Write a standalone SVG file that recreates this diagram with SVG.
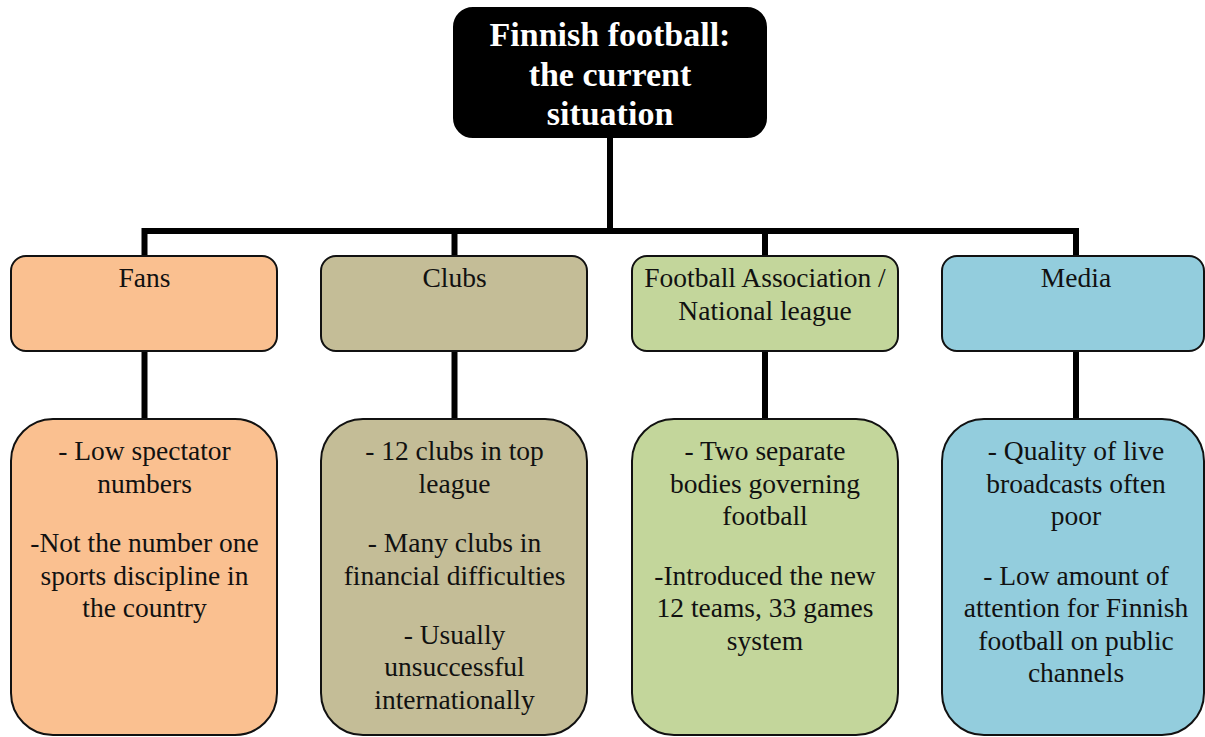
<svg xmlns="http://www.w3.org/2000/svg" width="1205" height="737" viewBox="0 0 1205 737">
<style>
.box{stroke:#111;stroke-width:2}
.fans{fill:#FAC090}
.clubs{fill:#C4BD97}
.fa{fill:#C3D69B}
.media{fill:#93CDDD}
.t{font-family:"Liberation Serif","Times New Roman",serif;font-size:27.5px;fill:#111;text-anchor:middle}
.title{font-family:"Liberation Serif","Times New Roman",serif;font-size:34px;font-weight:bold;fill:#fff;text-anchor:middle}
.conn{fill:none;stroke:#000;stroke-width:6;stroke-linejoin:miter;stroke-linecap:butt}
</style>
<rect width="1205" height="737" fill="#fff"/>
<g id="connectors">
<path class="conn" d="M610,138 V231"/>
<path class="conn" d="M144.5,256 V231 H1076 V256"/>
<path class="conn" d="M454.5,231 V256"/>
<path class="conn" d="M765,231 V256"/>
<path class="conn" d="M144.5,352 V419"/>
<path class="conn" d="M454.5,352 V419"/>
<path class="conn" d="M765,352 V419"/>
<path class="conn" d="M1076,352 V419"/>
</g>
<g id="root">
<rect x="454" y="8" width="312" height="129" rx="19" fill="#000" stroke="#000" stroke-width="2"/>
<text class="title" x="610" y="46">Finnish football:</text>
<text class="title" x="610" y="86">the current</text>
<text class="title" x="610" y="125">situation</text>
</g>
<g id="fans">
<rect class="box fans" x="11" y="256" width="266" height="95" rx="15"/>
<text class="t" x="144.5" y="287">Fans</text>
</g>
<g id="clubs">
<rect class="box clubs" x="321" y="256" width="266" height="95" rx="15"/>
<text class="t" x="454.5" y="287">Clubs</text>
</g>
<g id="fa">
<rect class="box fa" x="632" y="256" width="266" height="95" rx="15"/>
<text class="t" x="765" y="287">Football Association /</text>
<text class="t" x="765" y="320">National league</text>
</g>
<g id="media">
<rect class="box media" x="942" y="256" width="262" height="95" rx="15"/>
<text class="t" x="1076" y="287">Media</text>
</g>
<g id="fans-details">
<rect class="box fans" x="11" y="419" width="266" height="316" rx="42"/>
<text class="t" x="144.5" y="460">- Low spectator</text>
<text class="t" x="144.5" y="493">numbers</text>
<text class="t" x="144.5" y="552">-Not the number one</text>
<text class="t" x="144.5" y="585">sports discipline in</text>
<text class="t" x="144.5" y="617">the country</text>
</g>
<g id="clubs-details">
<rect class="box clubs" x="321" y="419" width="266" height="316" rx="42"/>
<text class="t" x="454.5" y="460">- 12 clubs in top</text>
<text class="t" x="454.5" y="493">league</text>
<text class="t" x="454.5" y="552">- Many clubs in</text>
<text class="t" x="454.5" y="585">financial difficulties</text>
<text class="t" x="454.5" y="644">- Usually</text>
<text class="t" x="454.5" y="676">unsuccessful</text>
<text class="t" x="454.5" y="709">internationally</text>
</g>
<g id="fa-details">
<rect class="box fa" x="632" y="419" width="266" height="316" rx="42"/>
<text class="t" x="765" y="460">- Two separate</text>
<text class="t" x="765" y="493">bodies governing</text>
<text class="t" x="765" y="525">football</text>
<text class="t" x="765" y="585">-Introduced the new</text>
<text class="t" x="765" y="617">12 teams, 33 games</text>
<text class="t" x="765" y="650">system</text>
</g>
<g id="media-details">
<rect class="box media" x="942" y="419" width="262" height="316" rx="42"/>
<text class="t" x="1076" y="460">- Quality of live</text>
<text class="t" x="1076" y="493">broadcasts often</text>
<text class="t" x="1076" y="525">poor</text>
<text class="t" x="1076" y="585">- Low amount of</text>
<text class="t" x="1076" y="617">attention for Finnish</text>
<text class="t" x="1076" y="650">football on public</text>
<text class="t" x="1076" y="682">channels</text>
</g>
</svg>
